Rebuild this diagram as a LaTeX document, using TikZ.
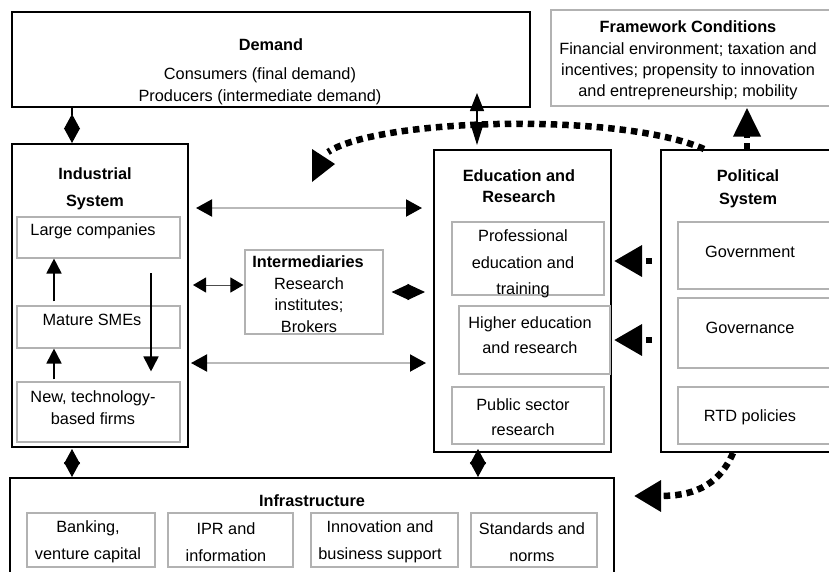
\documentclass[tikz,border=0pt]{standalone}
\usepackage{fontspec}
\setmainfont{Liberation Sans}
\usetikzlibrary{arrows.meta,fit,calc}
\begin{document}
\begin{tikzpicture}[x=1pt,y=-1pt,
  bigbox/.style={draw=black, line width=2pt, inner sep=0pt},
  smallbox/.style={draw=gray!60, line width=1.1pt, inner sep=0pt},
  txt/.style={font=\fontsize{16.3}{#1}\selectfont, align=center, inner sep=0pt},
  txt/.default=22,
  ttl/.style={font=\fontsize{16.3}{#1}\selectfont\bfseries, align=center, inner sep=0pt},
  ttl/.default=22,
  hdbl/.style={draw=gray!55, line width=2pt,
    {Triangle[length=16pt,width=17pt,color=black]}-{Triangle[length=16pt,width=17pt,color=black]}},
  sdbl/.style={draw=black!70, line width=1pt,
    {Triangle[length=13pt,width=15pt,color=black]}-{Triangle[length=13pt,width=15pt,color=black]}},
  diam/.style={line width=1pt,
    {Triangle[length=15pt,width=16pt]}-{Triangle[length=15pt,width=16pt]}},
  uparr/.style={line width=1.8pt, -{Triangle[length=15pt,width=15pt]}},
  dotln/.style={line width=6.5pt, dash pattern=on 6.5pt off 5pt},
  bighead/.style={-{Triangle[length=28pt,width=30pt]}}
]
\useasboundingbox (0,0) rectangle (829,571);
\begin{scope}
\clip (0,0) rectangle (829,571);
% ---------- boxes ----------
\node[bigbox, fit={(12,12)(530,107)}] (demand) {};
\node[smallbox, fit={(551,10)(834,106)}] (frame) {};
\node[bigbox, fit={(12,144)(188,447)}] (ind) {};
\node[smallbox, fit={(17,217)(180,258)}] (large) {};
\node[smallbox, fit={(17,306)(180,348)}] (mature) {};
\node[smallbox, fit={(17,382)(180,442)}] (newf) {};
\node[smallbox, fit={(245,250)(383,334)}] (inter) {};
\node[bigbox, fit={(434,150)(611,452)}] (edu) {};
\node[smallbox, fit={(452,222)(604,295)}] (prof) {};
\node[smallbox, fit={(459,306)(610,374)}] (higher) {};
\node[smallbox, fit={(452,387)(604,444)}] (public) {};
\node[bigbox, fit={(661,150)(840,452)}] (pol) {};
\node[smallbox, fit={(678,222)(840,289)}] (gov) {};
\node[smallbox, fit={(678,298)(840,368)}] (govn) {};
\node[smallbox, fit={(678,387)(840,444)}] (rtd) {};
\node[bigbox, fit={(10,478)(614,585)}] (infra) {};
\node[smallbox, fit={(27,513)(155,567)}] (bank) {};
\node[smallbox, fit={(168,513)(293,567)}] (ipr) {};
\node[smallbox, fit={(311,513)(458,567)}] (innov) {};
\node[smallbox, fit={(471,513)(597,567)}] (std) {};
% ---------- texts ----------
\node[ttl] (demandT) at (271,45) {Demand};
\node[txt] (demandB) at (260,86) {Consumers (final demand)\\Producers (intermediate demand)};
\node[ttl] (frameT) at (688,27) {Framework Conditions};
\node[txt=21] (frameB) at (688,71) {Financial environment; taxation and\\incentives; propensity to innovation\\and entrepreneurship; mobility};
\node[ttl=27] (indT) at (95,189) {Industrial\\System};
\node[txt] (largeT) at (93,231) {Large companies};
\node[txt] (matureT) at (92,320) {Mature SMEs};
\node[txt] (newfT) at (93,408) {New, technology-\\based firms};
\node[ttl] (interT) at (308,262) {Intermediaries};
\node[txt=21.5] (interB) at (309,305) {Research\\institutes;\\Brokers};
\node[ttl=21] (eduT) at (519,186) {Education and\\Research};
\node[txt=26.5] (profT) at (523,264) {Professional\\education and\\training};
\node[txt=25] (higherT) at (530,335) {Higher education\\and research};
\node[txt=25] (publicT) at (523,417) {Public sector\\research};
\node[ttl=23] (polT) at (748,189) {Political\\System};
\node[txt] (govT) at (750,252) {Government};
\node[txt] (govnT) at (750,328) {Governance};
\node[txt] (rtdT) at (750,417) {RTD policies};
\node[ttl] (infraT) at (312,501) {Infrastructure};
\node[txt=27] (bankT) at (88,542) {Banking,\\venture capital};
\node[txt=27] (iprT) at (226,542) {IPR and\\information};
\node[txt=27] (innovT) at (380,542) {Innovation and\\business support};
\node[txt=27] (stdT) at (532,542) {Standards and\\norms};
% ---------- connectors ----------
% Demand <-> Industrial
\draw[line width=1.2pt] (demand.south -| 72,0) -- ($(demand.south -| 72,0)+(0,7)$);
\draw[diam] ($(demand.south -| 72,0)+(0,6)$) -- (ind.north -| 72,0);
% Demand <-> Education
\draw[line width=1.2pt, {Triangle[length=18pt,width=14pt]}-{Triangle[length=23pt,width=14pt]}]
  ($(demand.south -| 477,0)+(0,-15)$) -- ($(edu.north -| 477,0)+(0,-4)$);
% Industrial <-> Infrastructure, Education <-> Infrastructure
\draw[diam] ($(ind.south -| 72,0)+(0,1)$) -- (infra.north -| 72,0);
\draw[diam] ($(edu.south -| 478,0)+(0,-4)$) -- (infra.north -| 478,0);
% Industrial <-> Education
\draw[hdbl] ($(ind.east |- 0,208)+(7,0)$) -- ($(edu.west |- 0,208)+(-11,0)$);
\draw[hdbl] ($(ind.east |- 0,363)+(2,0)$) -- ($(edu.west |- 0,363)+(-7,0)$);
% Industrial <-> Intermediaries <-> Education
\draw[sdbl] ($(ind.east |- 0,285)+(4,0)$) -- ($(inter.west |- 0,285)+(-1,0)$);
\draw[line width=1pt, {Triangle[length=17.5pt,width=16pt]}-{Triangle[length=17.5pt,width=16pt]}]
  ($(inter.east |- 0,292)+(8,0)$) -- ($(edu.west |- 0,292)+(-8,0)$);
% inside Industrial
\draw[uparr] ($(mature.north -| 54,0)+(0,-4)$) -- (large.south -| 54,0);
\draw[uparr] ($(newf.north -| 54,0)+(0,-2)$) -- (mature.south -| 54,0);
\draw[uparr] (151,273) -- ($(newf.north -| 151,0)+(0,-10)$);
% Political -> Education
\draw[dotln, bighead, shorten <=8pt] (pol.west |- 0,261) -- ($(edu.east |- 0,261)+(2,0)$);
\draw[dotln, bighead, shorten <=8pt] (pol.west |- 0,340) -- ($(edu.east |- 0,340)+(2,0)$);
% Political -> Framework
\draw[dotln, -{Triangle[length=29pt,width=26pt]}] (pol.north -| 747,0) -- ($(frame.south -| 747,0)+(0,1)$);
% Political -> Industrial (curved)
\coordinate (cEnd) at (328,152);
\draw[dotln] ([xshift=44pt]pol.north west) .. controls (620,112) and (380,118) .. (cEnd);
\fill (312,149) -- (335,164) -- (312,182) -- cycle;
% Political -> Infrastructure (curved)
\draw[dotln, -{Triangle[length=27pt,width=30pt]}] (pol.south -| 733,0) .. controls (718,488) and (690,496) .. ($(infra.east |- 0,496)+(19,0)$);
\end{scope}
\end{tikzpicture}
\end{document}
